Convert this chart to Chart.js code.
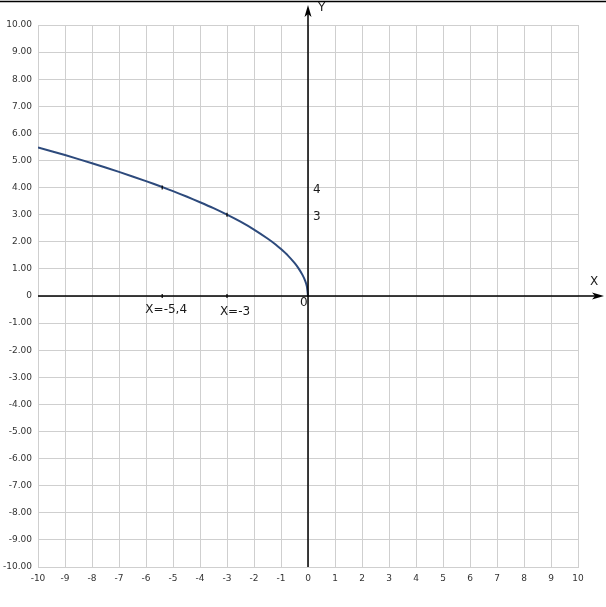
<!DOCTYPE html>
<html>
<head>
<meta charset="utf-8">
<script src="https://cdn.jsdelivr.net/npm/chart.js@4/dist/chart.umd.min.js"></script>
<style>
html,body{margin:0;padding:0;background:#fff;}
#wrap{width:606px;height:607px;position:relative;}
</style>
</head>
<body>
<div id="wrap"><canvas id="c" width="606" height="607"></canvas></div>
<script>
// Curve points
const curveX = [-10, -9, -8, -7, -6, -5.4, -5, -4.5, -4, -3.5, -3, -2.5, -2, -1.5, -1.2, -1, -0.75, -0.5, -0.35, -0.2, -0.1, -0.04, 0];
const curveY = [5.48, 5.20, 4.90, 4.58, 4.24, 4.02, 3.87, 3.67, 3.46, 3.24, 3.00, 2.74, 2.45, 2.12, 1.90, 1.73, 1.50, 1.22, 1.02, 0.77, 0.55, 0.35, 0];
// Axis range and tick values
const xTicks = [-10,-9,-8,-7,-6,-5,-4,-3,-2,-1,0,1,2,3,4,5,6,7,8,9,10];
const yTicks = [-10,-9,-8,-7,-6,-5,-4,-3,-2,-1,0,1,2,3,4,5,6,7,8,9,10];
// Annotations
const markX = [-5.4, -3];
const markY = [4, 3];
const markXLabels = ['X=-5,4', 'X=-3'];
const markYLabels = ['4', '3'];

const points = curveX.map((x, i) => ({x: x, y: curveY[i]}));

const axesPlugin = {
  id: 'axesPlugin',
  afterDatasetsDraw(chart) {
    const ctx = chart.ctx;
    const xs = chart.scales.x, ys = chart.scales.y;
    const x0 = xs.getPixelForValue(0), y0 = ys.getPixelForValue(0);
    const area = chart.chartArea;
    ctx.save();
    // top frame line
    ctx.strokeStyle = '#000';
    ctx.lineWidth = 1.5;
    ctx.beginPath(); ctx.moveTo(0, 1.5); ctx.lineTo(606, 1.5); ctx.stroke();
    // axes
    ctx.lineWidth = 1.5;
    ctx.beginPath();
    ctx.moveTo(x0, area.bottom); ctx.lineTo(x0, 12);
    ctx.moveTo(area.left, y0); ctx.lineTo(598, y0);
    ctx.stroke();
    ctx.fillStyle = '#000';
    // arrows
    ctx.beginPath();
    ctx.moveTo(x0, 5); ctx.lineTo(x0 - 3.5, 17); ctx.lineTo(x0, 14); ctx.lineTo(x0 + 3.5, 17); ctx.closePath(); ctx.fill();
    ctx.beginPath();
    ctx.moveTo(604, y0); ctx.lineTo(592, y0 - 3.5); ctx.lineTo(595, y0); ctx.lineTo(592, y0 + 3.5); ctx.closePath(); ctx.fill();
    // small marks
    ctx.lineWidth = 1.2;
    markX.forEach((mx, i) => {
      const px = xs.getPixelForValue(mx);
      const py = ys.getPixelForValue(markY[i]);
      ctx.beginPath();
      ctx.moveTo(px, y0 - 2); ctx.lineTo(px, y0 + 2);
      ctx.moveTo(px, py - 2); ctx.lineTo(px, py + 2);
      ctx.stroke();
    });
    // texts
    ctx.font = '12px "DejaVu Sans", sans-serif';
    ctx.fillStyle = '#1a1a1a';
    ctx.textBaseline = 'middle';
    ctx.textAlign = 'center';
    const xOff = [4, 8], yOff = [14, 16];
    markX.forEach((mx, i) => {
      const px = xs.getPixelForValue(mx);
      ctx.fillText(markXLabels[i], px + xOff[i], y0 + yOff[i]);
    });
    ctx.textAlign = 'left';
    markY.forEach((my, i) => {
      ctx.fillText(markYLabels[i], x0 + 5, ys.getPixelForValue(my) + 2);
    });
    ctx.fillText('0', x0 - 8, y0 + 7);
    ctx.fillText('X', 590, y0 - 14);
    ctx.fillText('Y', x0 + 10, 8);
    ctx.restore();
  }
};

new Chart(document.getElementById('c'), {
  type: 'line',
  data: {
    datasets: [{
      data: points,
      borderColor: '#2d4a7c',
      borderWidth: 2,
      pointRadius: 0,
      tension: 0.2,
      fill: false
    }]
  },
  options: {
    responsive: false,
    animation: false,
    devicePixelRatio: 1,
    layout: {padding: {top: 25, right: 28, left: 0, bottom: 0}},
    plugins: {legend: {display: false}, tooltip: {enabled: false}},
    scales: {
      x: {
        type: 'linear', min: -10, max: 10,
        afterBuildTicks: s => { s.ticks = xTicks.map(v => ({value: v})); },
        afterFit: s => { s.height = 40; },
        grid: {color: '#cfcfcf', lineWidth: 1, drawTicks: false},
        border: {color: '#cfcfcf'},
        ticks: {color: '#333', padding: 6, font: {family: 'DejaVu Sans', size: 9}, maxRotation: 0, autoSkip: false,
          callback: v => String(v)}
      },
      y: {
        type: 'linear', min: -10, max: 10,
        afterBuildTicks: s => { s.ticks = yTicks.map(v => ({value: v})); },
        afterFit: s => { s.width = 38; },
        grid: {color: '#cfcfcf', lineWidth: 1, drawTicks: false},
        border: {color: '#cfcfcf'},
        ticks: {color: '#333', padding: 6, font: {family: 'DejaVu Sans', size: 9}, autoSkip: false,
          callback: v => v === 0 ? '0' : v.toFixed(2)}
      }
    }
  },
  plugins: [axesPlugin]
});
</script>
</body>
</html>
